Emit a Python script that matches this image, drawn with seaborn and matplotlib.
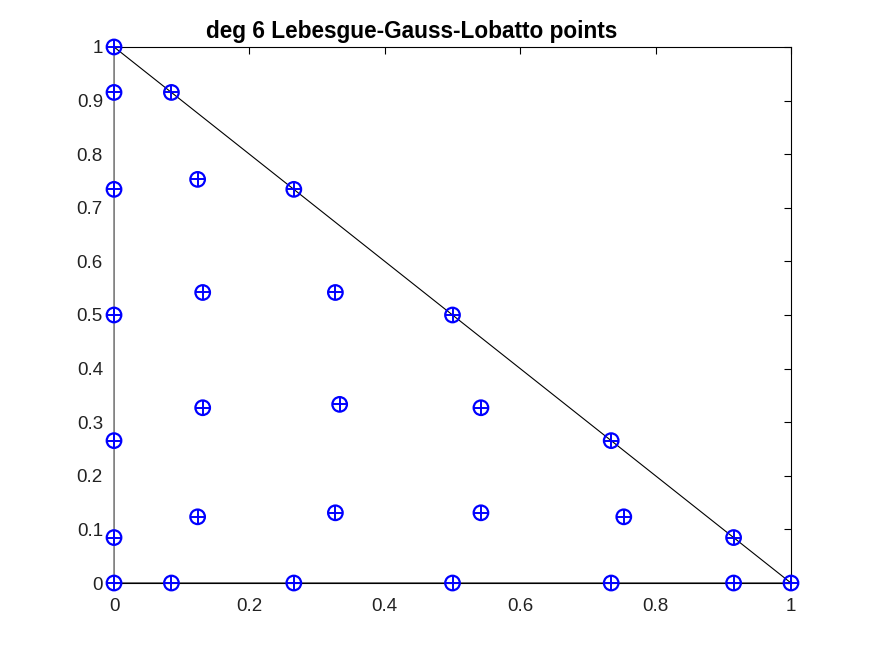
import matplotlib
matplotlib.use("Agg")
import matplotlib.pyplot as plt
import seaborn as sns
import pandas as pd

# Point coordinates
px = [0, 0, 0, 0, 0, 0, 0,
      0.0848, 0.2656, 0.5, 0.7344, 0.9152, 1,
      0.0848, 0.2656, 0.5, 0.7344, 0.9152,
      0.1235, 0.7530, 0.1235,
      0.131, 0.327, 0.131, 0.542, 0.327, 0.542,
      0.3333]
py = [0, 0.0848, 0.2656, 0.5, 0.7344, 0.9152, 1,
      0, 0, 0, 0, 0, 0,
      0.9152, 0.7344, 0.5, 0.2656, 0.0848,
      0.1235, 0.1235, 0.7530,
      0.542, 0.542, 0.327, 0.327, 0.131, 0.131,
      0.3333]

tri_x = [0, 1, 0, 0]
tri_y = [0, 0, 1, 0]

xticks = [0, 0.2, 0.4, 0.6, 0.8, 1]
yticks = [0, 0.1, 0.2, 0.3, 0.4, 0.5, 0.6, 0.7, 0.8, 0.9, 1]
title = "deg 6 Lebesgue-Gauss-Lobatto points"

sns.set_style("white")
plt.rcParams['font.family'] = ['Liberation Sans', 'DejaVu Sans']

fig = plt.figure(figsize=(8.75, 6.57), dpi=100)
ax = fig.add_axes([0.1303, 0.1126, 0.7737, 0.8159])

pts = pd.DataFrame({"x": px, "y": py})
tri = pd.DataFrame({"x": tri_x, "y": tri_y})

sns.lineplot(data=tri, x="x", y="y", sort=False, estimator=None, color="black",
             linewidth=0.8, ax=ax)
sns.scatterplot(data=pts, x="x", y="y", marker="o", s=110, facecolors="none",
                edgecolor="blue", linewidth=1.6, ax=ax, zorder=5, clip_on=False)
sns.scatterplot(data=pts, x="x", y="y", marker="+", s=110, color="blue",
                linewidth=1.4, ax=ax, zorder=6, clip_on=False)

ax.set_xlim(0, 1)
ax.set_ylim(0, 1)
ax.set_xticks(xticks)
ax.set_yticks(yticks)
ax.set_xticklabels([f"{t:g}" for t in xticks])
ax.set_yticklabels([f"{t:g}" for t in yticks])
ax.tick_params(direction="in", length=5, width=0.8, top=True, right=True,
               labelsize=13.5, colors="black", labelcolor="#222222")
ax.tick_params(axis="x", pad=10.5)
ax.tick_params(axis="y", pad=8)
ax.set_xlabel("")
ax.set_ylabel("")
for side in ["top", "right", "bottom"]:
    ax.spines[side].set_color("black")
    ax.spines[side].set_linewidth(0.8)
    ax.spines[side].set_visible(True)
ax.spines["left"].set_color("#888888")
ax.spines["left"].set_linewidth(1.2)
fig.text(0.471, 0.952, title, fontsize=16.3, fontweight="bold", ha="center",
         va="center", color="black")

fig.savefig("out.png", dpi=100)
